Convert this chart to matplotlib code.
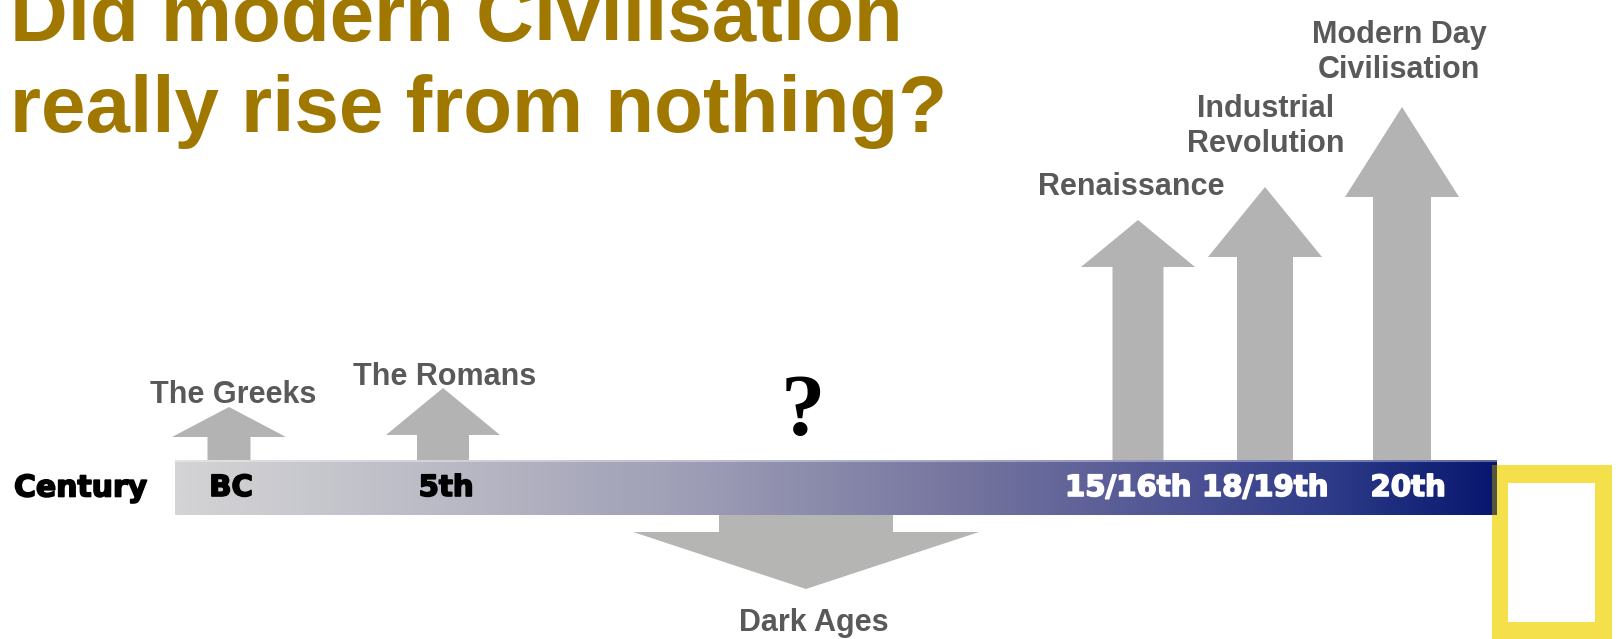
import numpy as np
import matplotlib
matplotlib.use("Agg")
import matplotlib.pyplot as plt
import matplotlib.patheffects as pe
from matplotlib.colors import LinearSegmentedColormap
from matplotlib.patches import Rectangle

# ---------------- data ----------------
title_lines = ["Did modern Civilisation", "really rise from nothing?"]
axis_label = "Century"
centuries = ["BC", "5th", "15/16th", "18/19th", "20th"]
century_x = [231, 446, 1128, 1265, 1408]
century_colors = ["black", "black", "white", "white", "white"]

eras = ["The Greeks", "The Romans", "Renaissance",
        "Industrial\nRevolution", "Modern Day\nCivilisation"]
era_x = [229, 443, 1138, 1265, 1402]
era_tip = [407, 388, 220, 187, 107]          # arrow tip (height of the rise)
era_shaft = [43, 52, 51, 56, 58]
era_head_len = [30, 47, 47, 70, 90]
era_label_x = [233, 445, 1131, 1266, 1399]
era_label_y = [403, 385, 195, 152, 78]

dark_label = "Dark Ages"
dark_x = 806
dark_tip = 589
question = "?"

# ---------------- figure ----------------
W, H = 1616, 639
fig = plt.figure(figsize=(W / 100, H / 100), dpi=100)
ax = fig.add_axes([0, 0, 1, 1])
ax.set_xlim(0, W)
ax.set_ylim(H, 0)
ax.axis("off")

bar_left, bar_right, bar_top, bar_bot = 175, 1497, 460, 515
arrow_gray = "#b3b3b3"
label_gray = "#595959"

# yellow frame (bottom right)
yellow = "#f4e04a"
ax.add_patch(Rectangle((1492, 465), 120, 180, facecolor=yellow, edgecolor="none", zorder=1))
ax.add_patch(Rectangle((1508, 483), 87, 139, facecolor="white", edgecolor="none", zorder=1.1))

# up arrows
for x, tip, sw, hl in zip(era_x, era_tip, era_shaft, era_head_len):
    ax.arrow(x, bar_top + 5, 0, tip - (bar_top + 5), width=sw, head_width=114,
             head_length=hl, length_includes_head=True, color=arrow_gray,
             linewidth=0, zorder=2)

# dark ages arrow
ax.arrow(dark_x, bar_bot - 5, 0, dark_tip - (bar_bot - 5), width=174, head_width=346,
         head_length=57, length_includes_head=True, color="#b5b5b3",
         linewidth=0, zorder=2)

# gradient bar
stops = [(0.0, "#d4d4d6"), (0.21, "#b9b9c5"), (0.40, "#9c9cb5"),
         (0.62, "#70709d"), (0.77, "#4c5294"), (0.88, "#2c3a88"), (1.0, "#08166e")]
cmap = LinearSegmentedColormap.from_list("bar", stops)
grad = np.linspace(0, 1, 600).reshape(1, -1)
ax.imshow(grad, cmap=cmap, extent=(bar_left, bar_right, bar_bot, bar_top),
          aspect="auto", zorder=3, interpolation="bilinear")
ax.plot([bar_left, bar_right], [bar_top + 1, bar_top + 1], color="white", alpha=0.35,
        lw=1.5, zorder=3.1)
ax.add_patch(Rectangle((1492, 465), 5, 50, facecolor="#55553e", edgecolor="none", zorder=3.2))
ax.set_xlim(0, W)
ax.set_ylim(H, 0)

# title
title_color = "#a07800"
for line, y in zip(title_lines, [41, 132]):
    ax.text(10, y, line, fontsize=57.5, fontweight="bold", family="Liberation Sans",
            color=title_color, ha="left", va="baseline", zorder=5)

# century labels (slightly heavier strokes)
ax.text(14, 488, axis_label, fontsize=21.5, fontweight="bold", family="DejaVu Sans",
        color="black", ha="left", va="center", zorder=5,
        path_effects=[pe.withStroke(linewidth=1.2, foreground="black")])
for lab, x, c in zip(centuries, century_x, century_colors):
    ax.text(x, 488, lab, fontsize=21, fontweight="bold", family="DejaVu Sans",
            color=c, ha="center", va="center", zorder=5,
            path_effects=[pe.withStroke(linewidth=1.2, foreground=c)])

# era labels
for lab, x, y in zip(eras, era_label_x, era_label_y):
    ax.text(x, y, lab, fontsize=22, fontweight="bold", family="Liberation Sans",
            color=label_gray, ha="center", va="baseline", linespacing=1.2, zorder=5)

ax.text(814, 631, dark_label, fontsize=22, fontweight="bold", family="Liberation Sans",
        color=label_gray, ha="center", va="baseline", zorder=5)

ax.text(803, 435, question, fontsize=64, fontweight="bold", family="Liberation Serif",
        color="black", ha="center", va="baseline", zorder=5)

fig.savefig("out.png", dpi=100, facecolor="white")
